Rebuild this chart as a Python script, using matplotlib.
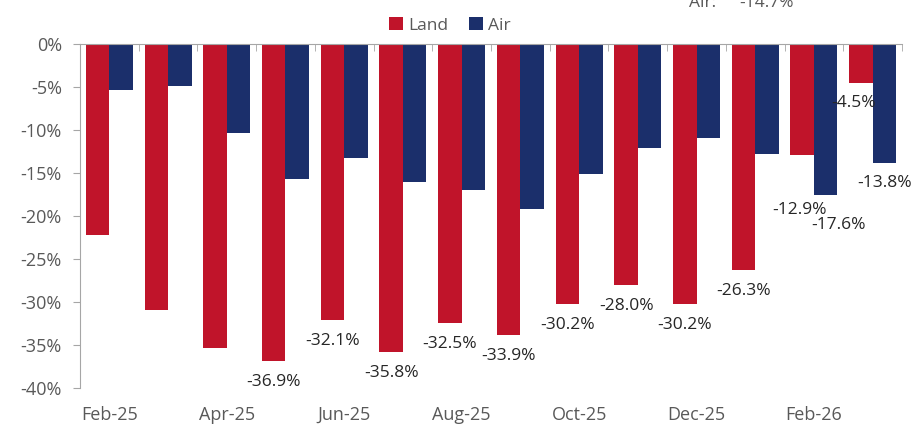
import matplotlib.pyplot as plt
import numpy as np

plt.rcParams['font.family'] = ['Open Sans', 'DejaVu Sans']

months = ['Feb-25', 'Mar-25', 'Apr-25', 'May-25', 'Jun-25', 'Jul-25', 'Aug-25',
          'Sep-25', 'Oct-25', 'Nov-25', 'Dec-25', 'Jan-26', 'Feb-26', 'Mar-26']
land = [-22.2, -30.9, -35.4, -36.9, -32.1, -35.8, -32.5,
        -33.9, -30.2, -28.0, -30.2, -26.3, -12.9, -4.5]
air = [-5.3, -4.9, -10.4, -15.7, -13.3, -16.1, -17.0,
       -19.2, -15.1, -12.1, -10.9, -12.8, -17.6, -13.8]

# which bars carry a value label, with a pixel offset (dx, dy)
land_labels = {3: (0, -21), 4: (0, -21), 5: (0, -21), 6: (0, -21), 7: (0, -21),
               8: (0, -21), 9: (0, -21), 10: (0, -21), 11: (0, -21),
               12: (-3, -55), 13: (-7, -20)}
air_labels = {12: (13, -30), 13: (0, -20)}

red = '#C0142A'
navy = '#1B2F6B'
grey = '#595959'

fig = plt.figure(figsize=(9.13, 4.32), dpi=100)
ax = fig.add_axes([0.0876, 0.102, 0.9004, 0.796])

x = np.arange(len(months))
w = 0.4
ax.bar(x - w / 2, land, w, color=red, label='Land')
ax.bar(x + w / 2, air, w, color=navy, label='Air')

for i, (dx, dy) in land_labels.items():
    ax.annotate(f'{land[i]:.1f}%', (x[i] - w / 2, land[i]), xytext=(dx, dy),
                textcoords='offset pixels', ha='center', va='center',
                fontsize=12.5, color='#262626')
for i, (dx, dy) in air_labels.items():
    ax.annotate(f'{air[i]:.1f}%', (x[i] + w / 2, air[i]), xytext=(dx, dy),
                textcoords='offset pixels', ha='center', va='center',
                fontsize=12.5, color='#262626')

ax.set_xlim(-0.5, len(months) - 0.5)
ax.set_ylim(-40, 0)
ax.set_yticks(np.arange(-40, 1, 5))
ax.set_yticklabels([f'{v}%' for v in range(-40, 1, 5)])

ax.set_xticks(x[::2])
ax.set_xticklabels(months[::2])
ax.set_xticks(np.arange(-0.5, len(months), 1), minor=True)
ax.tick_params(axis='x', which='major', length=0, pad=13, labelsize=13, labelcolor=grey)
ax.tick_params(axis='x', which='minor', top=True, bottom=False, direction='in',
               length=5, color='#A6A6A6')
ax.tick_params(axis='y', length=5, pad=8, color='#A6A6A6', labelsize=13, labelcolor=grey)

for s in ['right', 'bottom']:
    ax.spines[s].set_visible(False)
ax.spines['top'].set_color('#A6A6A6')
ax.spines['left'].set_color('#A6A6A6')

ax.legend(loc='lower center', bbox_to_anchor=(0.45, 1.0), ncol=2, frameon=False,
          fontsize=12.5, handlelength=0.8, handleheight=0.8, handletextpad=0.3,
          columnspacing=1.2, labelcolor=grey, borderaxespad=0.2)

# header text that is cut off at the top edge in the source image
fig.text(0.755, 0.993, 'Air:', fontsize=12.5, color=grey, ha='left', va='center')
fig.text(0.81, 0.993, '-14.7%', fontsize=12.5, color=grey, ha='left', va='center')

fig.savefig('out.png', dpi=100, facecolor='white')
